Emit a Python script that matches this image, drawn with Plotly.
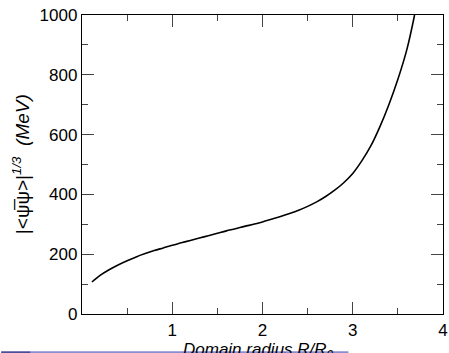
import plotly.graph_objects as go

# Data
radius = [0.11, 0.2, 0.3, 0.4, 0.5, 0.6, 0.7, 0.8, 0.9, 1.0, 1.1, 1.2, 1.3, 1.4, 1.5,
          1.6, 1.7, 1.8, 1.9, 2.0, 2.1, 2.2, 2.3, 2.4, 2.5, 2.6, 2.7, 2.8, 2.9, 3.0,
          3.1, 3.2, 3.3, 3.4, 3.5, 3.6, 3.685]
condensate = [107, 129, 148, 164, 178, 191, 202, 212, 221, 230, 238, 246, 254, 262, 270,
              278, 285, 293, 300, 308, 317, 326, 336, 347, 360, 375, 393, 414, 439, 470,
              512, 562, 626, 700, 785, 885, 1000]

x_ticks = [1, 2, 3, 4]
y_ticks = [0, 200, 400, 600, 800, 1000]

FONT = "Liberation Sans, Arial, Helvetica, sans-serif"

fig = go.Figure()
fig.add_trace(go.Scatter(x=radius, y=condensate, mode="lines",
                         line=dict(color="black", width=1.6, shape="spline", smoothing=1.0),
                         showlegend=False, hoverinfo="skip"))

axis_common = dict(showline=True, linecolor="black", linewidth=1.3, mirror="ticks",
                   ticks="inside", ticklen=12, tickwidth=1.2, tickcolor="#444",
                   showgrid=False, zeroline=False, ticklabeloverflow="allow",
                   tickfont=dict(family=FONT, size=17, color="black"))

fig.update_xaxes(range=[0, 4], tickvals=x_ticks, ticktext=[str(v) for v in x_ticks],
                 minor=dict(dtick=0.5, tick0=0, ticklen=6, tickwidth=1.2, tickcolor="#444", ticks="inside"),
                 **axis_common)
fig.update_yaxes(range=[0, 1000], tickvals=y_ticks, ticktext=[str(v) for v in y_ticks],
                 minor=dict(dtick=100, tick0=0, ticklen=6, tickwidth=1.2, tickcolor="#444", ticks="inside"),
                 **axis_common)

fig.add_annotation(xref="paper", yref="paper", x=-0.17, y=0.5,
                   text="|<ψ\u0305ψ>|<sup><i>1/3</i></sup>  <i>(MeV)</i>", textangle=-90,
                   showarrow=False, xanchor="center", yanchor="middle",
                   font=dict(family=FONT, size=19, color="black"))
fig.add_annotation(xref="paper", yref="paper", x=0.49, y=(314 - 338) / 299,
                   text="<i>Domain radius R/R<sub>0</sub></i>",
                   showarrow=False, xanchor="center", yanchor="top",
                   font=dict(family=FONT, size=17, color="black"))

# slide bottom bar artifact
fig.add_shape(type="line", xref="paper", yref="paper", x0=-0.224, x1=-0.142,
              y0=-0.128, y1=-0.128, line=dict(color="#4b4b9c", width=2))
fig.add_shape(type="line", xref="paper", yref="paper", x0=-0.142, x1=0.738,
              y0=-0.128, y1=-0.128, line=dict(color="#8c8cd2", width=2))

fig.update_layout(width=449, height=353, margin=dict(l=82, r=1, t=15, b=39),
                  paper_bgcolor="white", plot_bgcolor="white",
                  font=dict(family=FONT, color="black"))

fig.write_html("out.html")
